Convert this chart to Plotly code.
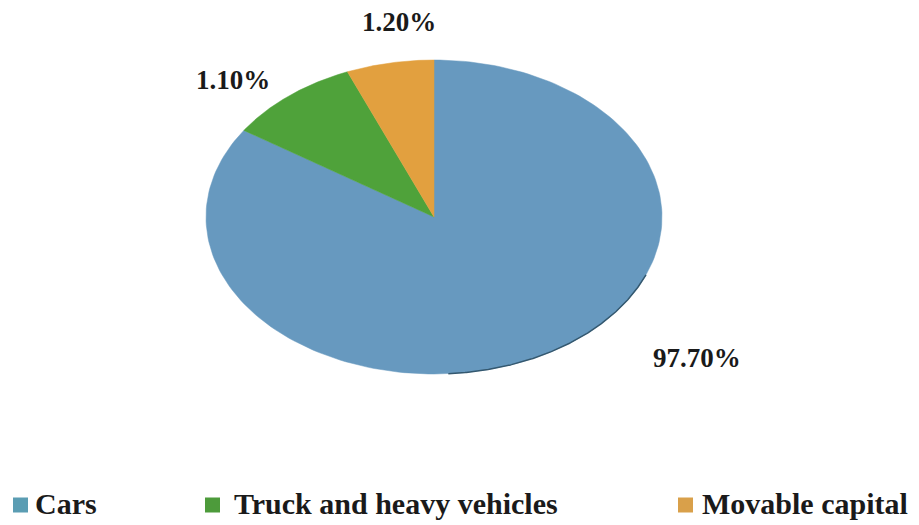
import numpy as np
import plotly.graph_objects as go

# ---- data ----
categories = ["Cars", "Truck and heavy vehicles", "Movable capital"]
slice_share = [84.3, 9.5, 6.2]          # visual share of each wedge as drawn
label_text = ["97.70%", "1.10%", "1.20%"]  # printed labels
slice_colors = ["#6799bf", "#4fa23a", "#e2a03f"]
legend_colors = ["#5b9db3", "#4d9b3b", "#d9a04a"]

# ---- layout constants (pixel space) ----
W, H = 919, 525
cx, cy, rx, ry = 434, 217, 228, 157
label_pos = [(697, 358), (233, 80), (399, 22)]
legend_marker_x = [20.5, 212.5, 685.5]
legend_text_x = [33, 232, 700]
legend_y = 505

fig = go.Figure()

total = sum(slice_share)
start = 0.0
for name, share, col in zip(categories, slice_share, slice_colors):
    f0, f1 = start / total, (start + share) / total
    th = np.linspace(2 * np.pi * f0, 2 * np.pi * f1, 200)
    xs = np.concatenate([[cx], cx + rx * np.sin(th), [cx]])
    ys = np.concatenate([[cy], cy - ry * np.cos(th), [cy]])
    fig.add_trace(go.Scatter(x=xs, y=ys, fill="toself", fillcolor=col,
                             mode="lines", line=dict(color=col, width=0.5),
                             hoverinfo="text", text=name, showlegend=False))
    start += share

# darker rim along the lower right edge
th = np.linspace(0.62 * np.pi, 0.98 * np.pi, 200)
fig.add_trace(go.Scatter(x=cx + rx * np.sin(th), y=cy - ry * np.cos(th),
                         mode="lines", line=dict(color="#34586f", width=1.5),
                         hoverinfo="skip", showlegend=False))

# percentage labels
for txt, (lx, ly) in zip(label_text, label_pos):
    fig.add_annotation(x=lx, y=ly, text="<b>%s</b>" % txt, showarrow=False,
                       xanchor="center", yanchor="middle",
                       font=dict(family="Liberation Serif", size=27, color="#1a1a1a"))

# legend
fig.add_trace(go.Scatter(x=legend_marker_x, y=[legend_y] * 3, mode="markers",
                         marker=dict(symbol="square", size=15, color=legend_colors),
                         hoverinfo="skip", showlegend=False))
for name, tx in zip(categories, legend_text_x):
    fig.add_annotation(x=tx, y=legend_y - 2, text="<b>%s</b>" % name, showarrow=False,
                       xanchor="left", yanchor="middle",
                       font=dict(family="Liberation Serif", size=30, color="#1a1a1a"))

fig.update_layout(
    width=W, height=H,
    margin=dict(l=0, r=0, t=0, b=0),
    paper_bgcolor="white", plot_bgcolor="white",
    xaxis=dict(range=[0, W], visible=False, fixedrange=True),
    yaxis=dict(range=[H, 0], visible=False, fixedrange=True),
    showlegend=False,
)

fig.write_html("out.html")
